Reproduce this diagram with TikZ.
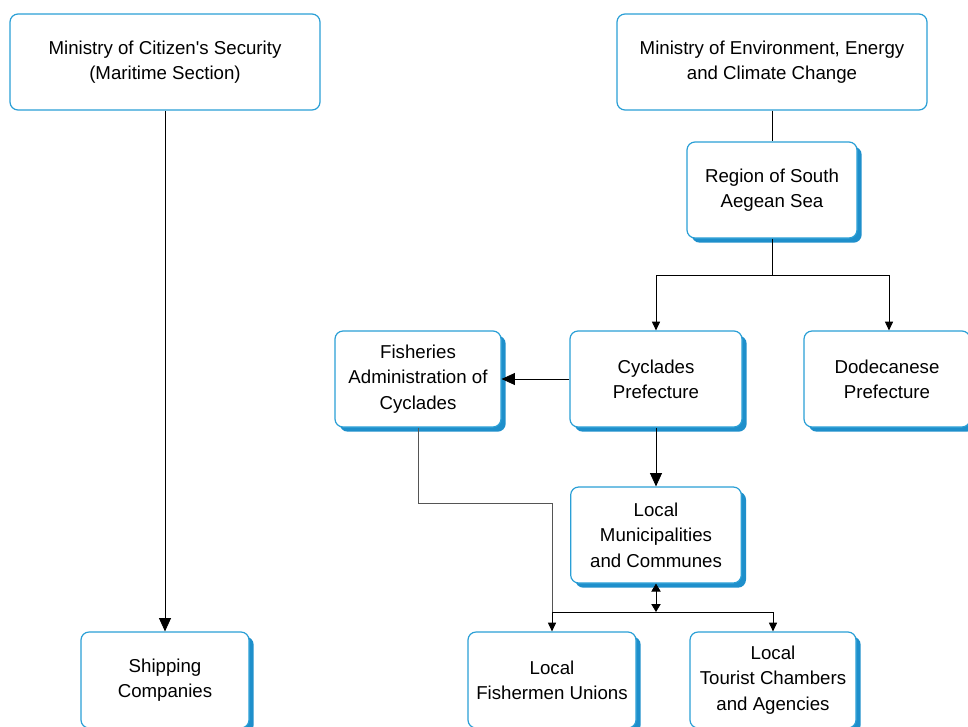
\documentclass[tikz,border=0pt]{standalone}
\usepackage{fontspec}
\setmainfont{Liberation Sans}
\usetikzlibrary{arrows.meta,shadows}
\definecolor{boxblue}{HTML}{2A9FD6}
\definecolor{shadblue}{HTML}{1E8FCB}
\definecolor{linegray}{HTML}{555555}
\begin{document}
\begin{tikzpicture}[x=0.75pt,y=-0.75pt,
  base/.style={draw=boxblue,line width=0.9pt,fill=white,rounded corners=6pt,
    align=center,font=\fontsize{14}{19}\selectfont,inner sep=0pt,
    minimum height=72pt},
  topbox/.style={base,minimum width=232.5pt},
  subbox/.style={base,minimum width=#1,
    drop shadow={shadow xshift=3.5pt,shadow yshift=-3.5pt,fill=shadblue,opacity=1}},
  conn/.style={draw=black,line width=0.6pt},
  bighead/.style={conn,-{Triangle[width=9pt,length=10pt]}},
  smallhead/.style={conn,-{Triangle[width=6pt,length=6.5pt]}},
  dblhead/.style={conn,{Triangle[width=7pt,length=6pt]}-{Triangle[width=7pt,length=6pt]}},
]
\useasboundingbox (0,0) rectangle (968,726);
\clip (0,0) rectangle (968,726);

\node[topbox] (cit) at (165,62) {Ministry of Citizen\textquotesingle s Security\\(Maritime Section)};
\node[topbox] (env) at (772,62) {Ministry of Environment, Energy\\and Climate Change};
\node[subbox=127.5pt] (reg) at (772,190) {Region of South\\Aegean Sea};
\node[subbox=129pt] (cyc) at (656,379) {Cyclades\\Prefecture};
\node[subbox=124.5pt] (dod) at (887,379) {Dodecanese\\Prefecture};
\node[subbox=124.5pt] (fis) at (418,379) {Fisheries\\Administration of\\Cyclades};
\node[subbox=128pt] (mun) at (656,535) {Local\\Municipalities\\and Communes};
\node[subbox=126pt] (fsh) at (552,680) {Local\\Fishermen Unions};
\node[subbox=124.5pt] (tou) at (773,680) {Local\\Tourist Chambers\\and Agencies};
\node[subbox=126pt] (shp) at (165,680) {Shipping\\Companies};

\coordinate (j1) at (772,275);
\coordinate (b1) at (552,503);
\coordinate (j2) at (656,612);
\coordinate (j3) at (552,612);

\draw[bighead] (cit.south) -- (shp.north);
\draw[conn] (env.south) -- (reg.north);
\draw[conn] (reg.south) -- (j1);
\draw[smallhead] (j1) -| (cyc.north);
\draw[smallhead] (j1) -| ([xshift=1.5pt]dod.north);
\draw[bighead] (cyc.west) -- (fis.east);
\draw[bighead] (cyc.south) -- (mun.north);
\draw[conn,draw=linegray] (fis.south) |- (b1) -- (j3);
\draw[smallhead] (j3) -- (fsh.north);
\draw[smallhead] (j3) -| (tou.north);
\draw[dblhead] (mun.south) -- (j2);
\end{tikzpicture}
\end{document}
